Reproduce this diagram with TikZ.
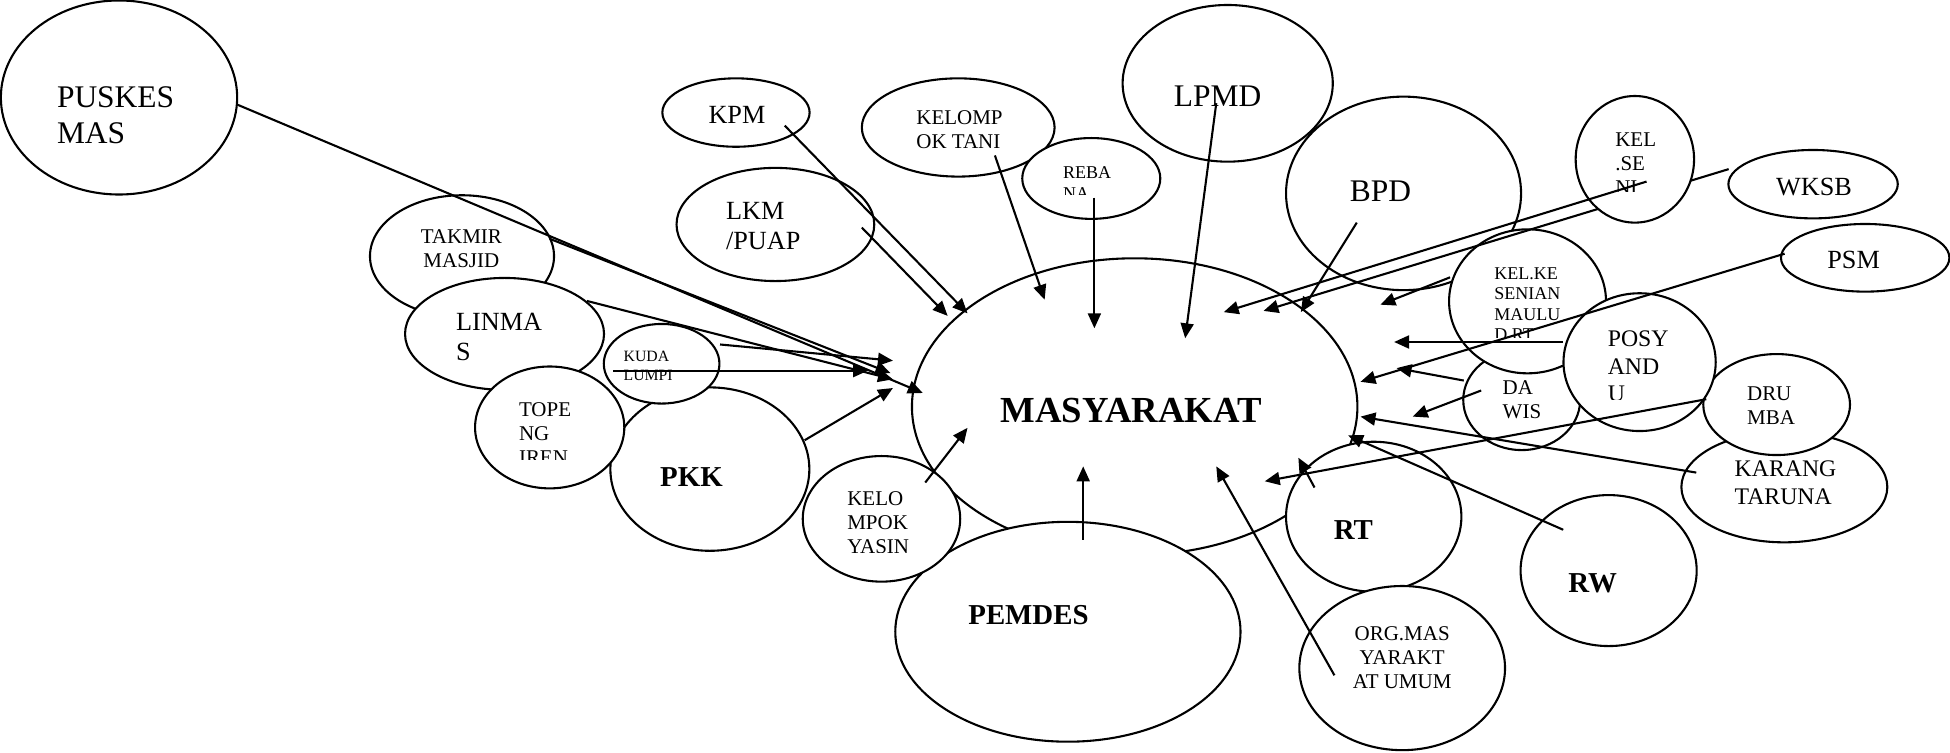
\documentclass[tikz,border=0pt]{standalone}
\usepackage{fontspec}
\setmainfont{Liberation Serif}
\usetikzlibrary{shapes.geometric, arrows.meta}

\begin{document}
\begin{tikzpicture}[>={Triangle[length=3mm, width=2.6mm]}, x=.25mm, y=-.25mm, line width=.42mm,
  blob/.style 2 args={ellipse, draw, fill=white, inner sep=0pt, minimum width=#1*.5mm, minimum height=#2*.5mm},
  lbl/.style={inner sep=0pt, align=left, anchor=west},
  mid/.style={inner sep=0pt, align=center},
  s21/.style={font=\fontsize{21}{24}\selectfont\bfseries},
  s18/.style={font=\fontsize{18}{20.7}\selectfont},
  s16/.style={font=\fontsize{16.5}{19}\selectfont\bfseries},
  s15/.style={font=\fontsize{15}{17.1}\selectfont},
  s13/.style={font=\fontsize{13.6}{15.8}\selectfont},
  s12/.style={font=\fontsize{12}{13.8}\selectfont},
  s10/.style={font=\fontsize{10.3}{11.7}\selectfont},
  s9/.style={font=\fontsize{9}{10.9}\selectfont}]
\useasboundingbox (0,0) rectangle (1568,605);
%
\node[blob={179.1}{119.3}] (masyarakat) at (912.4,327) {};
\node[blob={138.8}{88.4}] (pemdes) at (858.7,508) {};
\node[blob={80}{65.7}] (pkk) at (570.8,377.2) {};
\node[blob={63.3}{50.5}] (yasin) at (708.8,417.2) {};
\node[blob={70.5}{60.3}] (rt) at (1104.6,415.5) {};
\node[blob={82.7}{66}] (org) at (1127.5,537.2) {};
\node[blob={70.8}{60.7}] (rw) at (1293.5,458.8) {};
\node[blob={82.8}{44.5}] (karang) at (1434.8,391.6) {};
\node[blob={59}{40.6}] (drumba) at (1428.6,325.3) {};
\node[blob={47}{40.3}] (dawis) at (1223.6,321.6) {};
\node[blob={84.5}{63}] (lpmd) at (987.2,67) {};
\node[blob={94.5}{77.8}] (bpd) at (1128.6,155.5) {};
\node[blob={63.1}{57.9}] (kelkesenian) at (1228.3,242.3) {};
\node[blob={61.2}{55.4}] (posyandu) at (1318.4,291.2) {};
\node[blob={68.1}{27.5}] (wksb) at (1457.9,148.1) {};
\node[blob={67.7}{27.2}] (psm) at (1499.8,207.3) {};
\node[blob={77.5}{39.5}] (tani) at (770.5,102.5) {};
\node[blob={55.5}{32.5}] (rebana) at (877.5,143.5) {};
\node[blob={59.2}{27.5}] (kpm) at (591.8,90.5) {};
\node[blob={79.5}{45.5}] (lkm) at (623.5,180.5) {};
\node[blob={95}{78}] (puskesmas) at (95.7,78.4) {};
\node[blob={74}{49}] (takmir) at (371.5,206) {};
\node[blob={46.5}{32}] (kuda) at (532,292.5) {};
\node[blob={80}{45}] (linmas) at (405.7,268.5) {};
\node[blob={60}{49}] (topeng) at (442,343.7) {};
%
\coordinate (puskesmas out) at (190.5,84);  \coordinate (puskesmas in) at (742,316);
\coordinate (takmir out) at (442,192);      \coordinate (takmir in) at (716,300);
\coordinate (linmas out) at (472,242);      \coordinate (linmas in) at (718,305);
\coordinate (kuda out) at (579,277);        \coordinate (kuda in) at (718,290);
\coordinate (lumpi out) at (493,298);       \coordinate (lumpi in) at (698,298);
\coordinate (pkk out) at (647,354);         \coordinate (pkk in) at (718,312);
\coordinate (kpm out) at (631,101);         \coordinate (kpm in) at (778,252);
\coordinate (lkm out) at (693,183);         \coordinate (lkm in) at (762,254);
\coordinate (tani out) at (800,125);        \coordinate (tani in) at (840,241);
\coordinate (rebana out) at (880,159);      \coordinate (rebana in) at (880,264);
\coordinate (lpmd out) at (978,83);         \coordinate (lpmd in) at (953,272);
\coordinate (bpd out) at (1091,179);        \coordinate (bpd in) at (1046,251);
\coordinate (kelseni out) at (1324,146);    \coordinate (kelseni in) at (984,251);
\coordinate (wksb out) at (1390,136);       \coordinate (wksb in) at (1016,250);
\coordinate (kelkesenian out) at (1166,223); \coordinate (kelkesenian in) at (1110,245);
\coordinate (posyandu out) at (1257,275);   \coordinate (posyandu in) at (1121,275);
\coordinate (psm out) at (1435,204);        \coordinate (psm in) at (1094,307);
\coordinate (dawis out) at (1177,306);      \coordinate (dawis in) at (1123,296);
\coordinate (wis out) at (1191,314);        \coordinate (wis in) at (1136,335);
\coordinate (drumba out) at (1372,321);     \coordinate (drumba in) at (1017,387);
\coordinate (karang out) at (1364,380);     \coordinate (karang in) at (1094,335);
\coordinate (rw out) at (1257,426);         \coordinate (rw in) at (1084,350);
\coordinate (rt out) at (1057,392);         \coordinate (rt in) at (1044,368);
\coordinate (org out) at (1073,543);        \coordinate (org in) at (978,375);
\coordinate (pemdes out) at (871,434);      \coordinate (pemdes in) at (871,375);
\coordinate (yasin out) at (744,388);       \coordinate (yasin in) at (778,344);
%
\draw[->] (wksb out) -- (wksb in);
\node[blob={47.6}{50.9}] (kelseni) at (1314.6,128.1) {};
%
\node[lbl, s18] (puskesmas text) at (45,92.5) {PUSKES\\MAS};
\node[s15] (kpm text) at (592.6,92.5) {KPM};
\node[lbl, s12] (tani text) at (736,104) {KELOMP\\OK TANI};
\begin{scope}
  \clip (850,125) rectangle (900,156.5);
  \node[lbl, s10] (rebana text) at (854,147.3) {REBA\\NA};
\end{scope}
\node[s18] (lpmd text) at (979,77.7) {LPMD};
\node[s18] (bpd text) at (1110,154) {BPD};
\begin{scope}
  \clip (1290,100) rectangle (1350,154);
  \node[lbl, s12] (kelseni text) at (1298,131.3) {KEL\\.SE\\NI};
\end{scope}
\node[s15] (wksb text) at (1458.7,150) {WKSB};
\node[s15] (psm text) at (1490.5,209) {PSM};
\begin{scope}
  \clip (1195,205) rectangle (1260,271.5);
  \node[lbl, s10] (kelkesenian text) at (1200.8,244.6) {KEL.KE\\SENIAN\\MAULU\\D RT};
\end{scope}
\begin{scope}
  \clip (1285,255) rectangle (1345,321);
  \node[lbl, s13] (posyandu text) at (1292,294.6) {POSY\\AND\\U};
\end{scope}
\node[lbl, s12] (dawis text) at (1207.5,321.4) {DA\\WIS};
\node[lbl, s12] (drumba text) at (1404,326) {DRU\\MBA};
\node[lbl, s13] (karang text) at (1394,388) {KARANG\\TARUNA};
\node[s16] (rw text) at (1280.6,469) {RW};
\node[s16] (rt text) at (1088.3,426.2) {RT};
\node[mid, s12] (org text) at (1127.5,529.1) {ORG.MAS\\YARAKT\\AT UMUM};
\node[s16] (pemdes text) at (827,494.6) {PEMDES};
\node[s21] (masyarakat text) at (909.5,329.7) {MASYARAKAT};
\begin{scope}
  \clip (675,385) rectangle (745,444.5);
  \node[lbl, s12] (yasin text) at (680.5,420.3) {KELO\\MPOK\\YASIN};
\end{scope}
\node[s16] (pkk text) at (556,383.3) {PKK};
\begin{scope}
  \clip (410,315) rectangle (480,369.5);
  \node[lbl, s12] (topeng text) at (416.5,348.4) {TOPE\\NG\\IREN};
\end{scope}
\node[lbl, s9] (kuda text) at (500.7,294) {KUDA\\LUMPI};
\node[lbl, s15] (linmas text) at (366,270.7) {LINMA\\S};
\node[mid, s12] (takmir text) at (371,199.7) {TAKMIR\\MASJID};
\node[lbl, s15] (lkm text) at (583,182) {LKM\\/PUAP};
%
\draw[->] (puskesmas out) -- (puskesmas in);
\draw[->] (takmir out) -- (takmir in);
\draw[->] (linmas out) -- (linmas in);
\draw[->] (kuda out) -- (kuda in);
\draw[->] (lumpi out) -- (lumpi in);
\draw[->] (pkk out) -- (pkk in);
\draw[->] (kpm out) -- (kpm in);
\draw[->] (lkm out) -- (lkm in);
\draw[->] (tani out) -- (tani in);
\draw[->] (rebana out) -- (rebana in);
\draw[->] (lpmd out) -- (lpmd in);
\draw[->] (bpd out) -- (bpd in);
\draw[->] (kelseni out) -- (kelseni in);
\draw[->] (kelkesenian out) -- (kelkesenian in);
\draw[->] (posyandu out) -- (posyandu in);
\draw[->] (psm out) -- (psm in);
\draw[->] (dawis out) -- (dawis in);
\draw[->] (wis out) -- (wis in);
\draw[->] (drumba out) -- (drumba in);
\draw[->] (karang out) -- (karang in);
\draw[->] (rw out) -- (rw in);
\draw[->] (rt out) -- (rt in);
\draw[->] (org out) -- (org in);
\draw[->] (pemdes out) -- (pemdes in);
\draw[->] (yasin out) -- (yasin in);
\end{tikzpicture}
\end{document}
